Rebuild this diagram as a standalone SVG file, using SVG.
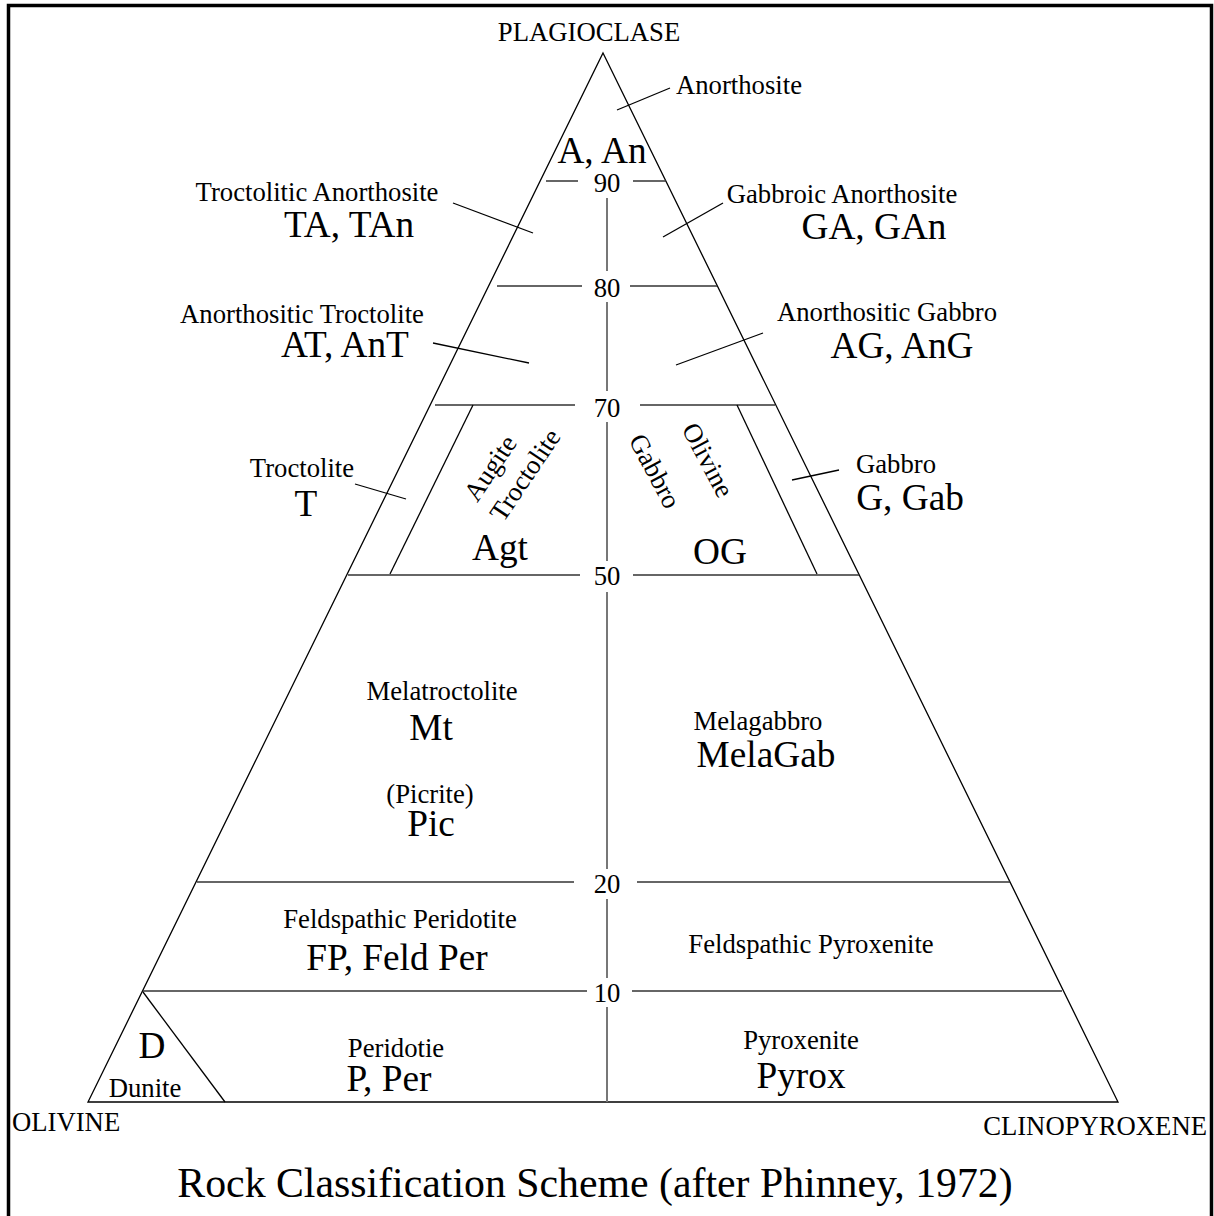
<svg xmlns="http://www.w3.org/2000/svg" width="1214" height="1216" viewBox="0 0 1214 1216">
<style>
.t{font-family:"Liberation Serif","Times New Roman",serif;fill:#000;text-anchor:middle}
.s{font-size:26.7px}
.b{font-size:37.3px}
.ln{stroke:#000;stroke-width:1.3;fill:none}
.hl{stroke:#333;stroke-width:1.5;fill:none}
.cl{stroke:#777;stroke-width:2;fill:none}
</style>
<rect x="0" y="0" width="1214" height="1216" fill="#fff"/>
<rect x="8.5" y="5.5" width="1203" height="1220" fill="none" stroke="#000" stroke-width="3.5"/>
<g id="connectors">
<polygon class="ln" points="603,53 1118,1102 88,1102"/>
<line class="cl" x1="607" y1="198" x2="607" y2="271"/>
<line class="cl" x1="607" y1="302" x2="607" y2="391"/>
<line class="cl" x1="607" y1="422" x2="607" y2="561"/>
<line class="cl" x1="607" y1="592" x2="607" y2="869"/>
<line class="cl" x1="607" y1="899" x2="607" y2="978"/>
<line class="cl" x1="607" y1="1007" x2="607" y2="1102"/>
<line class="hl" x1="546" y1="181" x2="578" y2="181"/>
<line class="hl" x1="633" y1="181" x2="666" y2="181"/>
<line class="hl" x1="497" y1="286" x2="582" y2="286"/>
<line class="hl" x1="630" y1="286" x2="717" y2="286"/>
<line class="hl" x1="435" y1="405" x2="575" y2="405"/>
<line class="hl" x1="640" y1="405" x2="775" y2="405"/>
<line class="hl" x1="348" y1="575" x2="580" y2="575"/>
<line class="hl" x1="633" y1="575" x2="859" y2="575"/>
<line class="hl" x1="197" y1="882" x2="574" y2="882"/>
<line class="hl" x1="637" y1="882" x2="1010" y2="882"/>
<line class="hl" x1="143" y1="991" x2="587" y2="991"/>
<line class="hl" x1="632" y1="991" x2="1062" y2="991"/>
<line class="ln" x1="473" y1="405" x2="390" y2="574"/>
<line class="ln" x1="737" y1="405" x2="817" y2="574"/>
<line class="ln" x1="143" y1="992" x2="225" y2="1102"/>
<line class="ln" x1="617" y1="110" x2="670" y2="88"/>
<line class="ln" x1="453" y1="203" x2="533" y2="233"/>
<line class="ln" x1="433" y1="343" x2="529" y2="363"/>
<line class="ln" x1="663" y1="237" x2="723" y2="203"/>
<line class="ln" x1="676" y1="365" x2="763" y2="333"/>
<line class="ln" x1="355" y1="484" x2="406" y2="499"/>
<line class="ln" x1="792" y1="480" x2="839" y2="470"/>
</g>
<g id="vertex-labels">
<text class="t s" x="589" y="41">PLAGIOCLASE</text>
<text class="t s" x="12" y="1131" style="text-anchor:start">OLIVINE</text>
<text class="t s" x="1207" y="1135" style="text-anchor:end">CLINOPYROXENE</text>
</g>
<g id="scale">
<text class="t s" x="607" y="192">90</text>
<text class="t s" x="607" y="297">80</text>
<text class="t s" x="607" y="417">70</text>
<text class="t s" x="607" y="585">50</text>
<text class="t s" x="607" y="893">20</text>
<text class="t s" x="607" y="1002">10</text>
</g>
<g id="anorthosite">
<text class="t s" x="739" y="94">Anorthosite</text>
<text class="t b" x="602" y="163">A, An</text>
</g>
<g id="troctolitic-anorthosite">
<text class="t s" x="317" y="201">Troctolitic Anorthosite</text>
<text class="t b" x="349" y="237">TA, TAn</text>
</g>
<g id="gabbroic-anorthosite">
<text class="t s" x="842" y="203">Gabbroic Anorthosite</text>
<text class="t b" x="874" y="239">GA, GAn</text>
</g>
<g id="anorthositic-troctolite">
<text class="t s" x="302" y="323">Anorthositic Troctolite</text>
<text class="t b" x="345" y="357">AT, AnT</text>
</g>
<g id="anorthositic-gabbro">
<text class="t s" x="887" y="321">Anorthositic Gabbro</text>
<text class="t b" x="902" y="358">AG, AnG</text>
</g>
<g id="troctolite">
<text class="t s" x="302" y="477">Troctolite</text>
<text class="t b" x="306" y="516">T</text>
</g>
<g id="augite-troctolite">
<text class="t s" transform="translate(490,468) rotate(-56)" x="0" y="9">Augite</text>
<text class="t s" transform="translate(525,475) rotate(-56)" x="0" y="9">Troctolite</text>
<text class="t b" x="500" y="560">Agt</text>
</g>
<g id="olivine-gabbro">
<text class="t s" transform="translate(708,460) rotate(62)" x="0" y="9">Olivine</text>
<text class="t s" transform="translate(655,471) rotate(62)" x="0" y="9">Gabbro</text>
<text class="t b" x="720" y="564">OG</text>
</g>
<g id="gabbro">
<text class="t s" x="896" y="473">Gabbro</text>
<text class="t b" x="910" y="510">G, Gab</text>
</g>
<g id="melatroctolite">
<text class="t s" x="442" y="700">Melatroctolite</text>
<text class="t b" x="431" y="740">Mt</text>
<text class="t s" x="430" y="803">(Picrite)</text>
<text class="t b" x="431" y="836">Pic</text>
</g>
<g id="melagabbro">
<text class="t s" x="758" y="730">Melagabbro</text>
<text class="t b" x="766" y="767">MelaGab</text>
</g>
<g id="feldspathic-peridotite">
<text class="t s" x="400" y="928">Feldspathic Peridotite</text>
<text class="t b" x="397" y="970">FP, Feld Per</text>
</g>
<g id="feldspathic-pyroxenite">
<text class="t s" x="811" y="953">Feldspathic Pyroxenite</text>
</g>
<g id="dunite">
<text class="t b" x="152" y="1058">D</text>
<text class="t s" x="145" y="1097">Dunite</text>
</g>
<g id="peridotite">
<text class="t s" x="396" y="1057">Peridotie</text>
<text class="t b" x="389" y="1091">P, Per</text>
</g>
<g id="pyroxenite">
<text class="t s" x="801" y="1049">Pyroxenite</text>
<text class="t b" x="801" y="1088">Pyrox</text>
</g>
<g id="title">
<text class="t" style="font-size:41.8px" x="595" y="1197">Rock Classification Scheme (after Phinney, 1972)</text>
</g>
</svg>
